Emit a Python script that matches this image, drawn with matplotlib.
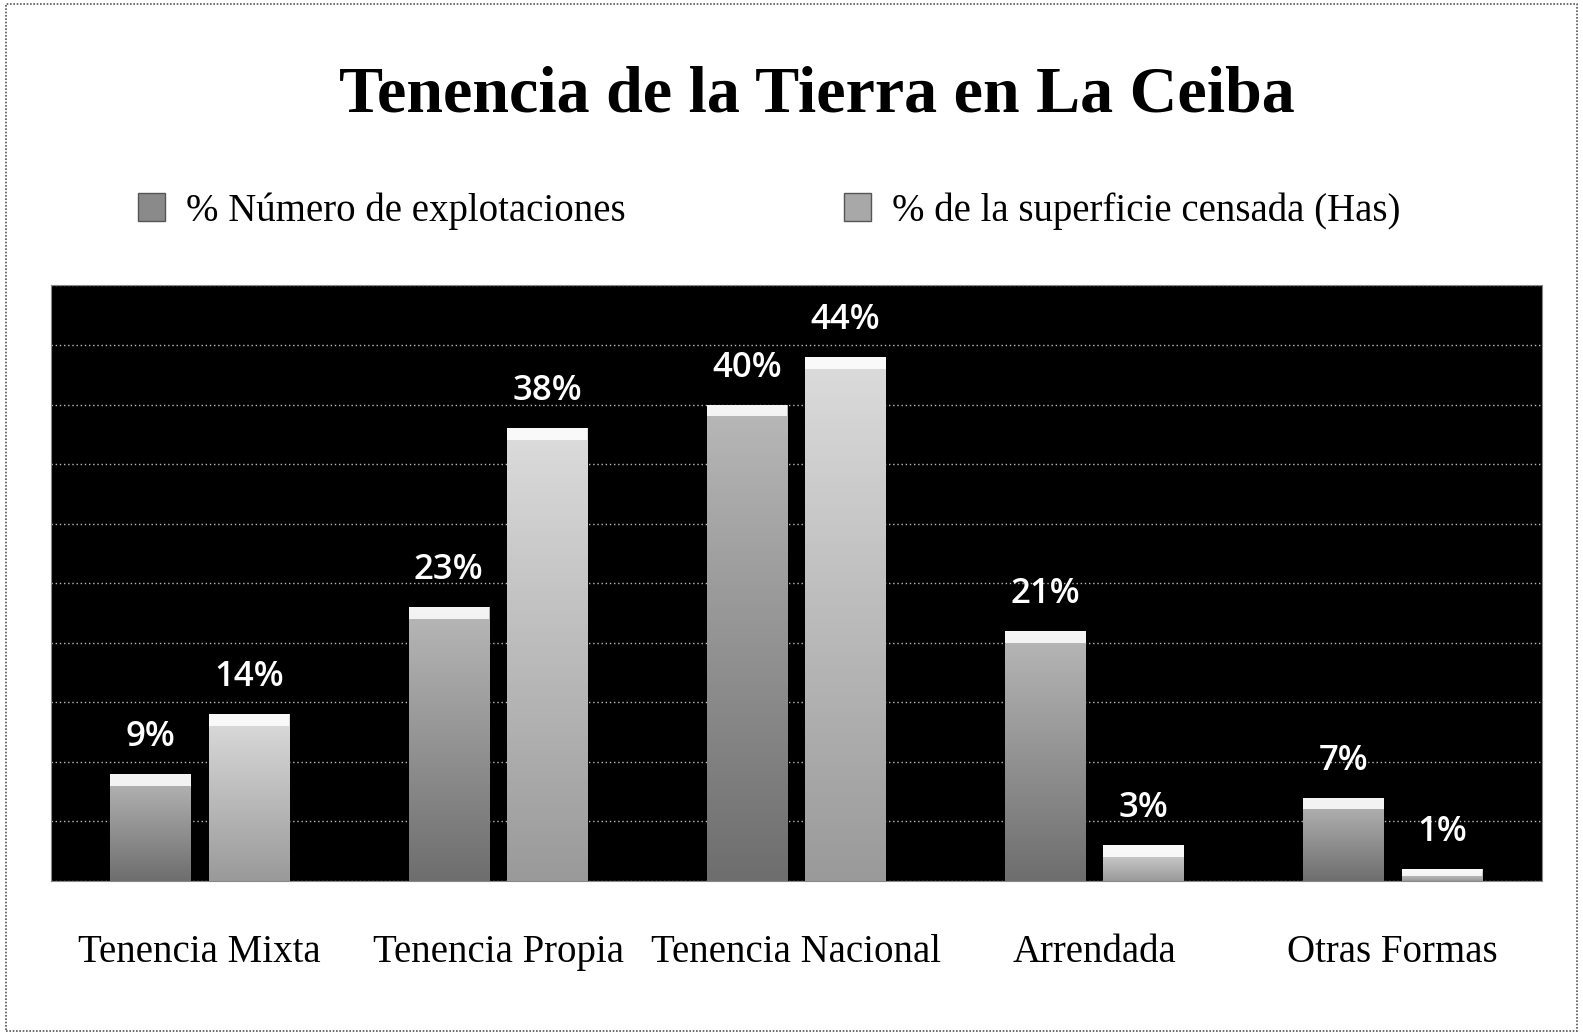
import numpy as np
import matplotlib
matplotlib.use("Agg")
import matplotlib.pyplot as plt
from matplotlib.patches import Patch, Rectangle

categorias = ["Tenencia Mixta", "Tenencia Propia", "Tenencia Nacional", "Arrendada", "Otras Formas"]
explotaciones = [9, 23, 40, 21, 7]
superficie = [14, 38, 44, 3, 1]
series = ["% Número de explotaciones", "% de la superficie censada (Has)"]

fig = plt.figure(figsize=(15.83, 10.34), dpi=100)
fig.patch.set_facecolor("white")

ax = fig.add_axes([0.032, 0.148, 0.942, 0.576])
ax.set_facecolor("black")

x = np.arange(len(categorias))
w = 0.27
gap = 0.06

def gradient_bars(bars, light, dark):
    grad = np.linspace(0, 1, 100).reshape(-1, 1)
    cmap = matplotlib.colors.LinearSegmentedColormap.from_list("g", [dark, light])
    for b in bars:
        x0, y0 = b.get_x(), b.get_y()
        bw, bh = b.get_width(), b.get_height()
        im = ax.imshow(grad, cmap=cmap, aspect="auto", origin="lower",
                       extent=(x0, x0 + bw, y0, y0 + bh), zorder=2, vmin=0, vmax=1)
        im.set_clip_path(b)
        # light bevel on top
        cap = min(1.0, bh * 0.6)
        ax.add_patch(Rectangle((x0, y0 + bh - cap), bw, cap, facecolor="white",
                               edgecolor="none", alpha=0.85, zorder=3))

b1 = ax.bar(x - (w + gap) / 2, explotaciones, w, color="none", zorder=2)
b2 = ax.bar(x + (w + gap) / 2, superficie, w, color="none", zorder=2)
gradient_bars(b1, "#b8b8b8", "#6e6e6e")
gradient_bars(b2, "#dcdcdc", "#9a9a9a")

for bars, vals in ((b1, explotaciones), (b2, superficie)):
    for b, v in zip(bars, vals):
        ax.text(b.get_x() + b.get_width() / 2, v + 3.1, f"{v}%", ha="center", va="center",
                color="white", fontsize=25, family="Open Sans", fontweight="semibold", zorder=4)

ax.set_xlim(-0.5, 4.5)
ax.set_ylim(0, 50)
ax.set_yticks(np.arange(0, 51, 5))
ax.yaxis.grid(True, color="#bbbbbb", linestyle=(0, (1, 2)), linewidth=1.0)
ax.set_axisbelow(True)
ax.tick_params(axis="y", left=False, labelleft=False)
ax.set_xticks(x)
ax.set_xticklabels(categorias, family="Liberation Serif", fontsize=28)
ax.tick_params(axis="x", length=0, pad=38)
for s in ax.spines.values():
    s.set_color("#888888")
    s.set_linestyle((0, (1, 1)))

fig.text(0.516, 0.908, "Tenencia de la Tierra en La Ceiba", ha="center", va="center",
         family="Liberation Serif", fontweight="bold", fontsize=47.5)

handles = [Patch(facecolor="#8a8a8a", edgecolor="#555555"), Patch(facecolor="#a8a8a8", edgecolor="#555555")]
fig.legend(handles, series, loc="center", bbox_to_anchor=(0.486, 0.796), ncol=2, frameon=False,
           prop={"family": "Liberation Serif", "size": 28}, columnspacing=5.6,
           handlelength=0.7, handleheight=0.7, handletextpad=0.55)

fig.add_artist(Rectangle((0.004, 0.003), 0.992, 0.993, transform=fig.transFigure, fill=False,
                         edgecolor="#555555", linestyle=(0, (1, 1)), linewidth=1.2))

fig.savefig("out.png", dpi=100)
